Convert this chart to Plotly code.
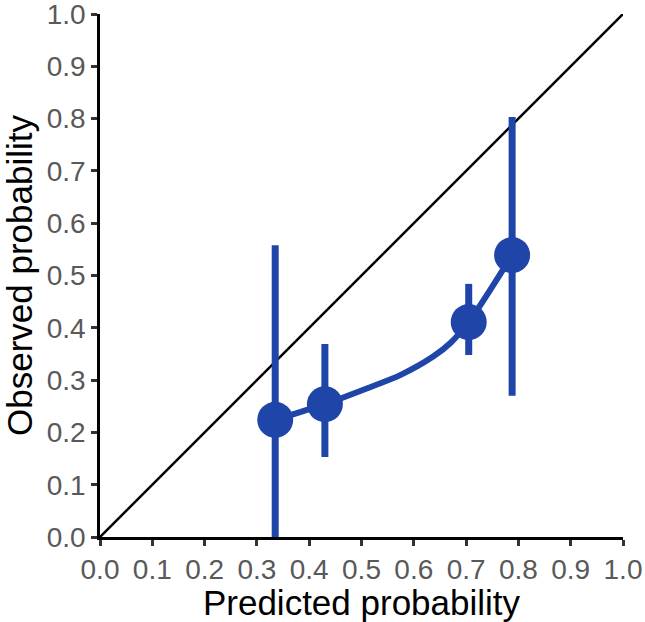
import plotly.graph_objects as go

# Data
pred = [0.335, 0.430, 0.705, 0.788]
obs = [0.224, 0.254, 0.411, 0.539]
ci_low = [0.000, 0.153, 0.348, 0.270]
ci_high = [0.558, 0.369, 0.484, 0.803]

curve_x = [0.335, 0.43, 0.51, 0.575, 0.637, 0.67, 0.705, 0.788]
curve_y = [0.224, 0.254, 0.284, 0.310, 0.345, 0.371, 0.411, 0.539]

ticks = [i / 10 for i in range(11)]
tick_text = [f"{t:.1f}" for t in ticks]

blue = "#1f45a9"

fig = go.Figure()
fig.add_trace(go.Scatter(x=[0, 1], y=[0, 1], mode="lines",
                         line=dict(color="black", width=2.5), showlegend=False))
fig.add_trace(go.Scatter(
    x=pred, y=obs, mode="markers",
    marker=dict(size=0.1, color=blue, opacity=1),
    error_y=dict(type="data", symmetric=False,
                 array=[h - o for h, o in zip(ci_high, obs)],
                 arrayminus=[o - l for o, l in zip(obs, ci_low)],
                 width=0, thickness=7, color=blue),
    showlegend=False))
fig.add_trace(go.Scatter(x=curve_x, y=curve_y, mode="lines",
                         line=dict(color=blue, width=6, shape="spline", smoothing=0.8),
                         showlegend=False))
fig.add_trace(go.Scatter(x=pred, y=obs, mode="markers",
                         marker=dict(size=36, color=blue, line=dict(width=0)),
                         showlegend=False))

axis_common = dict(
    range=[0, 1], tickvals=ticks, ticktext=tick_text, automargin=False,
    ticklabeloverflow="allow",
    showgrid=False, zeroline=False, showline=True, linecolor="black", linewidth=2.5,
    ticks="outside", ticklen=6, tickwidth=2.5, tickcolor="#333333",
    tickfont=dict(family="Liberation Sans, Arial", size=28, color="#595959"),
    title_font=dict(family="Liberation Sans, Arial", size=35, color="black"),
)

fig.update_xaxes(**axis_common, title_text="Predicted probability", title_standoff=8)
fig.update_yaxes(**axis_common, title_text="Observed probability", title_standoff=8)

fig.update_layout(
    width=645, height=622,
    margin=dict(l=100, r=22, t=14, b=85),
    plot_bgcolor="white", paper_bgcolor="white",
)

fig.write_html("out.html")
